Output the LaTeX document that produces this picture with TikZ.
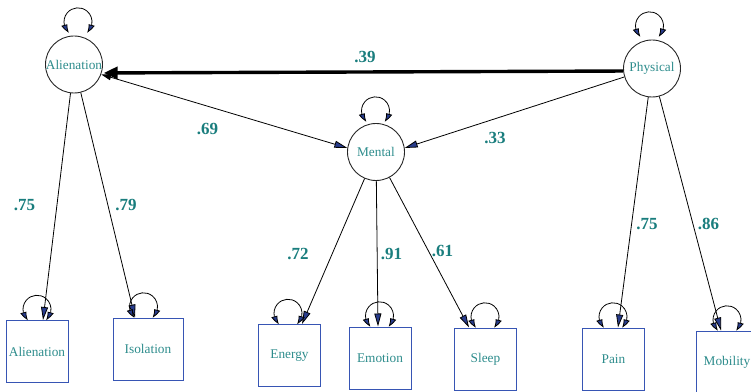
\documentclass[tikz,border=0pt]{standalone}
\usepackage{fontspec}
\setmainfont{Liberation Serif}
\usetikzlibrary{arrows.meta,bending}
\definecolor{labteal}{RGB}{25,125,125}
\definecolor{txtteal}{RGB}{45,140,140}
\definecolor{boxblue}{RGB}{55,85,180}
\definecolor{tipnavy}{RGB}{40,60,140}
\begin{document}
\begin{tikzpicture}[x=1pt,y=1pt,
  latent/.style={circle,draw=black!85,line width=0.9pt,minimum size=57pt,inner sep=0pt,
    text=txtteal,font=\fontsize{13.3}{15}\selectfont},
  indicator/.style={rectangle,draw=boxblue,line width=1pt,minimum width=62pt,
    minimum height=62pt,inner sep=0pt,text=txtteal,font=\fontsize{13.3}{15}\selectfont},
  coef/.style={text=labteal,font=\fontsize{17}{19}\selectfont\bfseries,inner sep=0pt},
  regr/.style={draw=black,line width=0.8pt,-{Triangle[length=13pt,width=7pt,fill=tipnavy]}},
  errloop/.style={draw=black,line width=0.8pt,
    {Triangle[length=9pt,width=6pt,fill=tipnavy,bend]}-{Triangle[length=9pt,width=6pt,fill=tipnavy,bend]}},
  cov/.style={draw=black,line width=3.4pt,-{Triangle[length=14pt,width=12pt]},shorten >=2pt},
  cor/.style={draw=black,line width=0.8pt,
    {Triangle[length=10pt,width=6pt]}-{Triangle[length=13pt,width=7pt,fill=tipnavy]}},
  pathm/.style={draw=black,line width=0.8pt,-{Triangle[length=13pt,width=7pt,fill=tipnavy]}}
]
\useasboundingbox (0,0) rectangle (751,391);

% latent factors
\node[latent] (ali) at (74,326.5) {Alienation};
\node[latent] (phy) at (652,322.5) {Physical};
\node[latent] (men) at (376,239) {Mental};

% observed indicators
\node[indicator] (bAli) at (37,39.5) {Alienation};
\node[indicator,minimum width=70pt] (bIso) at (148,42) {Isolation};
\node[indicator] (bEne) at (289.5,35.5) {Energy};
\node[indicator] (bEmo) at (380,33) {Emotion};
\node[indicator] (bSle) at (485.5,32) {Sleep};
\node[indicator] (bPai) at (613.5,32) {Pain};
\node[indicator] (bMob) at (727,29) {Mobility};

% loadings
\draw[regr] (ali) -- ([xshift=6pt]bAli.north);
\draw[regr] (ali) -- ([xshift=-13pt]bIso.north);
\draw[regr] (men) -- ([xshift=12.5pt]bEne.north);
\draw[regr] (men) -- ([xshift=-2pt]bEmo.north);
\draw[regr] (men) -- ([xshift=-16.5pt]bSle.north);
\draw[regr] (phy) -- ([xshift=4.5pt]bPai.north);
\draw[regr] (phy) -- ([xshift=-6pt]bMob.north);

% structural paths and covariances
\draw[cov] (phy.185) -- (ali.-17);
\draw[cor] (ali.-20) -- (men.172);
\draw[pathm] (phy.197) -- (men.8);

% variances / residual loops
\draw[errloop] ([xshift=-5pt,yshift=3pt]ali.north) arc[start angle=230,end angle=-50,radius=14];
\draw[errloop] ([xshift=-11.5pt,yshift=3pt]phy.north) arc[start angle=230,end angle=-50,radius=14];
\draw[errloop] ([xshift=-9.5pt,yshift=1.5pt]men.north) arc[start angle=230,end angle=-50,radius=14];
\draw[errloop] ([xshift=-9pt]bAli.north) arc[start angle=230,end angle=-50,radius=14];
\draw[errloop] ([xshift=-13.5pt]bIso.north) arc[start angle=230,end angle=-50,radius=14];
\draw[errloop] ([xshift=-10.5pt]bEne.north) arc[start angle=230,end angle=-50,radius=14];
\draw[errloop] ([xshift=-9.5pt]bEmo.north) arc[start angle=230,end angle=-50,radius=14];
\draw[errloop] ([xshift=-9.5pt]bSle.north) arc[start angle=230,end angle=-50,radius=14];
\draw[errloop] ([xshift=-9.5pt]bPai.north) arc[start angle=230,end angle=-50,radius=14];
\draw[errloop] ([xshift=-9pt]bMob.north) arc[start angle=230,end angle=-50,radius=14];

% coefficients
\node[coef] (c39) at (365,334) {.39};
\node[coef] (c69) at (207.5,262) {.69};
\node[coef] (c33) at (495,253) {.33};
\node[coef] (c75a) at (24.5,186) {.75};
\node[coef] (c79) at (126,186) {.79};
\node[coef] (c72) at (298,137.5) {.72};
\node[coef] (c91) at (391.5,137.5) {.91};
\node[coef] (c61) at (442.5,140) {.61};
\node[coef] (c75b) at (647,167) {.75};
\node[coef] (c86) at (708.5,167) {.86};
\end{tikzpicture}
\end{document}
